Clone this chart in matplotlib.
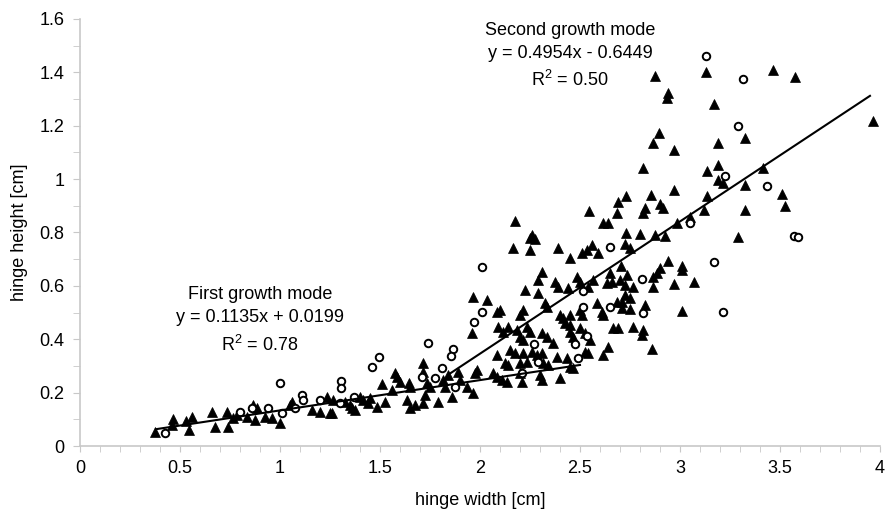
import numpy as np
import matplotlib
matplotlib.use("Agg")
import matplotlib.pyplot as plt
from matplotlib.ticker import MultipleLocator

plt.rcParams["font.family"] = ["Liberation Sans", "DejaVu Sans"]
plt.rcParams["mathtext.fontset"] = "custom"
plt.rcParams["mathtext.rm"] = "Liberation Sans"

# ---- data (hinge width, hinge height in cm) ----
tri_x = [0.375, 0.46, 0.465, 0.53, 0.56, 0.545, 0.66, 0.675, 0.735, 0.74, 0.765, 0.785, 0.835,
         0.865, 0.875, 0.885, 0.925, 0.96, 1.0, 1.06, 1.05, 1.16, 1.20, 1.235, 1.25,
         1.715, 1.575, 1.585, 1.51, 1.645, 1.65, 1.60, 1.715, 1.735, 1.75, 1.84, 1.815, 1.825,
         1.90, 1.89, 1.935, 1.56, 1.525, 1.635, 1.65, 1.675, 1.715, 1.79, 1.86, 1.725, 1.485,
         1.40, 1.415, 1.35, 1.36, 1.375, 1.45, 1.44, 1.265, 1.26, 1.325,
         2.545, 2.175, 2.26, 2.25, 2.275, 2.165, 2.25, 2.39, 2.45, 2.51, 2.535, 2.56, 2.59,
         2.31, 2.29, 2.375, 2.39, 2.485, 2.50, 2.565, 2.54, 2.44, 2.225, 2.29, 1.965, 2.035,
         2.085, 2.10, 2.20, 2.215, 2.325, 2.335, 2.40, 2.415, 2.45, 2.50, 2.51, 2.585,
         1.96, 2.09, 2.115, 2.14, 2.185, 2.235, 2.25, 2.20, 2.215, 2.31, 2.335, 2.365, 2.45,
         2.465, 2.50, 2.525, 2.55, 2.425, 2.45, 2.15, 2.175, 2.215, 2.26, 2.285, 2.31, 2.085,
         2.125, 2.14, 2.20, 2.235, 2.315, 2.34, 2.385, 2.435, 2.525, 2.54, 2.065, 2.085, 2.11,
         2.135, 2.20, 2.21, 2.30, 2.31, 2.40, 2.45, 2.465, 1.985, 1.975, 1.965,
         3.13, 2.875, 2.94, 2.935, 3.17, 2.895, 2.865, 2.97, 3.19, 3.325, 2.815, 3.19, 3.135,
         3.19, 3.215, 3.325, 2.97, 2.855, 2.73, 2.69, 2.685, 2.90, 2.915, 2.825, 2.815, 3.135,
         3.12, 3.05, 3.325, 2.615, 2.64, 2.985, 2.73, 2.80, 2.875, 2.925, 3.29,
         2.725, 2.75, 2.94, 3.01, 3.01, 2.90, 2.885, 2.865, 2.705, 2.65, 2.66, 2.635, 2.735,
         2.70, 2.725, 2.765, 2.865, 2.97, 3.07, 2.725, 2.75, 2.71, 2.685, 2.71, 2.75, 2.825,
         3.01, 2.61, 2.615, 2.665, 2.69, 2.765, 2.815, 2.81, 2.64, 2.615, 2.86,
         3.465, 3.575, 3.965, 3.415, 3.51, 3.525]
tri_y = [0.052, 0.079, 0.101, 0.094, 0.109, 0.060, 0.127, 0.071, 0.127, 0.071, 0.105, 0.116, 0.109,
         0.154, 0.097, 0.142, 0.109, 0.105, 0.086, 0.165, 0.154, 0.135, 0.127, 0.184, 0.124,
         0.311, 0.274, 0.259, 0.232, 0.236, 0.221, 0.240, 0.277, 0.236, 0.221, 0.266, 0.247, 0.221,
         0.247, 0.277, 0.221, 0.210, 0.165, 0.172, 0.142, 0.154, 0.161, 0.165, 0.184, 0.191, 0.146,
         0.184, 0.172, 0.154, 0.142, 0.135, 0.180, 0.161, 0.172, 0.124, 0.165,
         0.880, 0.843, 0.791, 0.779, 0.776, 0.742, 0.734, 0.742, 0.704, 0.723, 0.734, 0.753, 0.723,
         0.652, 0.622, 0.614, 0.596, 0.633, 0.614, 0.622, 0.596, 0.592, 0.585, 0.573, 0.558, 0.547,
         0.502, 0.510, 0.491, 0.510, 0.536, 0.521, 0.491, 0.480, 0.491, 0.510, 0.491, 0.536,
         0.423, 0.446, 0.427, 0.446, 0.435, 0.446, 0.427, 0.408, 0.397, 0.423, 0.408, 0.386, 0.427,
         0.408, 0.442, 0.423, 0.397, 0.461, 0.453, 0.360, 0.348, 0.348, 0.352, 0.341, 0.348, 0.341,
         0.311, 0.303, 0.311, 0.315, 0.311, 0.303, 0.333, 0.330, 0.352, 0.348, 0.274, 0.259, 0.247,
         0.240, 0.274, 0.240, 0.266, 0.247, 0.255, 0.296, 0.292, 0.285, 0.274, 0.199,
         1.401, 1.386, 1.323, 1.304, 1.281, 1.173, 1.135, 1.109, 1.135, 1.154, 1.042, 1.053, 1.030,
         0.997, 0.985, 0.978, 0.959, 0.940, 0.937, 0.914, 0.873, 0.907, 0.892, 0.892, 0.873, 0.937,
         0.884, 0.858, 0.884, 0.836, 0.836, 0.836, 0.798, 0.794, 0.791, 0.787, 0.783,
         0.757, 0.742, 0.693, 0.674, 0.659, 0.667, 0.648, 0.633, 0.674, 0.648, 0.614, 0.611, 0.641,
         0.622, 0.603, 0.596, 0.596, 0.607, 0.614, 0.566, 0.555, 0.540, 0.540, 0.517, 0.513, 0.528,
         0.506, 0.502, 0.491, 0.442, 0.442, 0.446, 0.435, 0.416, 0.371, 0.341, 0.363,
         1.409, 1.383, 1.218, 1.042, 0.944, 0.899]

circ_x = [0.425, 0.80, 0.86, 0.94, 1.0, 1.01, 1.11, 1.115, 1.075, 1.20,
          1.305, 1.305, 1.37, 1.30, 1.495, 1.46, 1.74, 1.865, 1.855, 1.81, 1.71, 1.775, 1.875,
          2.01, 2.01, 1.97, 2.515, 2.515, 2.27, 2.475, 2.535, 2.29, 2.49, 2.21,
          2.65, 2.65, 2.81, 3.17, 2.815, 3.215,
          3.13, 3.315, 3.29, 3.225, 3.05, 3.435, 3.57, 3.59]
circ_y = [0.049, 0.127, 0.142, 0.142, 0.236, 0.124, 0.191, 0.172, 0.142, 0.172,
          0.244, 0.217, 0.184, 0.161, 0.333, 0.296, 0.386, 0.363, 0.337, 0.292, 0.259, 0.255, 0.221,
          0.671, 0.502, 0.465, 0.581, 0.521, 0.382, 0.382, 0.412, 0.315, 0.330, 0.274,
          0.746, 0.521, 0.626, 0.689, 0.498, 0.502,
          1.461, 1.375, 1.199, 1.012, 0.836, 0.974, 0.787, 0.783]

x_ticks = [0, 0.5, 1, 1.5, 2, 2.5, 3, 3.5, 4]
x_labels = ["0", "0.5", "1", "1.5", "2", "2.5", "3", "3.5", "4"]
y_ticks = [0, 0.2, 0.4, 0.6, 0.8, 1.0, 1.2, 1.4, 1.6]
y_labels = ["0", "0.2", "0.4", "0.6", "0.8", "1", "1.2", "1.4", "1.6"]

# regression lines as given on the chart
fit1 = (0.1135, 0.0199)
fit1_range = (0.38, 2.5)
fit2 = (0.4954, -0.6449)
fit2_range = (1.85, 3.95)

fig = plt.figure(figsize=(8.93, 5.13), dpi=100)
ax = fig.add_axes([0.0896, 0.1306, 0.8958, 0.8324])

ax.plot(tri_x, tri_y, linestyle="none", marker="^", markersize=6.5, color="black",
        markeredgewidth=0.5)
ax.plot(circ_x, circ_y, linestyle="none", marker="o", markersize=5.4, markerfacecolor="white",
        markeredgecolor="black", markeredgewidth=1.4)

for (a, b), (x0, x1) in [(fit1, fit1_range), (fit2, fit2_range)]:
    xs = np.array([x0, x1])
    ax.plot(xs, a * xs + b, color="black", linewidth=1.5)

ax.text(2.45, 1.59, "Second growth mode\ny = 0.4954x - 0.6449\nR$^\\mathregular{2}$ = 0.50",
        ha="center", va="top", fontsize=13, linespacing=1.5)
ax.text(0.9, 0.6, "First growth mode\ny = 0.1135x + 0.0199\nR$^\\mathregular{2}$ = 0.78",
        ha="center", va="top", fontsize=13, linespacing=1.5)

ax.set_xticks(x_ticks, labels=x_labels)
ax.set_yticks(y_ticks, labels=y_labels)
ax.xaxis.set_minor_locator(MultipleLocator(0.1))
ax.yaxis.set_minor_locator(MultipleLocator(0.1))
ax.set_xlim(0, 4)
ax.set_ylim(0, 1.6)

for s in ["top", "right"]:
    ax.spines[s].set_visible(False)
for s in ["left", "bottom"]:
    ax.spines[s].set_color("#c8c8c8")
    ax.spines[s].set_linewidth(1.2)
ax.tick_params(which="both", direction="out", color="#c8c8c8", labelsize=13, pad=6)
ax.tick_params(axis="y", which="both", length=5)
ax.tick_params(axis="x", which="both", length=4)

ax.set_xlabel("hinge width [cm]", fontsize=13, labelpad=11)
ax.set_ylabel("hinge height [cm]", fontsize=13, labelpad=8)

fig.savefig("out.png", dpi=100)
